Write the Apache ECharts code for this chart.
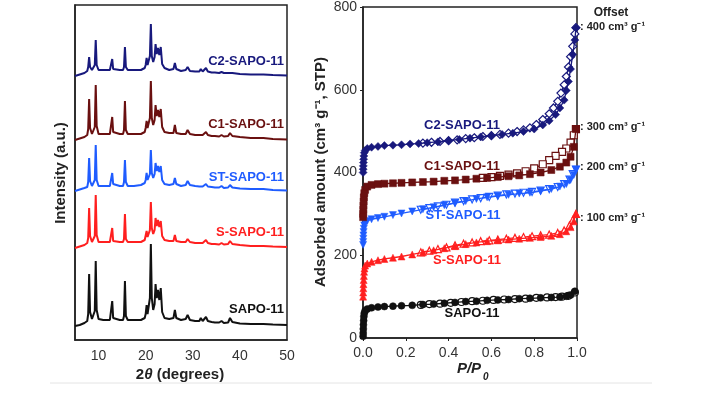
<!DOCTYPE html>
<html>
<head>
<meta charset="utf-8">
<script src="https://cdn.jsdelivr.net/npm/echarts@6/dist/echarts.min.js"></script>
<style>
html,body{margin:0;padding:0;background:#fff;}
#c{width:708px;height:402px;}
</style>
</head>
<body>
<div id="c"></div>
<script>
// ---------- XRD data (left panel) ----------
const twoTheta = [5.0,6.0,7.0,7.6,7.8,8.0,8.2,8.6,9.0,9.2,9.4,9.6,10.0,11.0,12.4,12.7,12.9,13.1,13.5,14.5,15.2,15.4,15.6,15.8,16.2,17.5,19.0,19.8,20.0,20.2,20.4,20.7,20.9,21.1,21.3,21.6,21.9,22.1,22.35,22.6,22.9,23.2,23.5,24.0,25.0,25.9,26.2,26.5,27.5,28.5,28.9,29.4,30.5,31.4,31.7,32.1,32.5,32.8,33.2,34.0,34.3,34.7,35.6,36.1,36.6,37.5,37.9,38.4,40.0,42.3,42.7,43.2,44.1,44.5,45.0,47.0,50.0];
const xrdSAPO = [0,1,3,5,12,52,14,7,7,15, 65,16,7,6,6,8,25,8,6,6, 6,10,45,10,6,6,6,8,12,21, 12,14,28,82,28,16,22,42,28,36, 26,38,14,8,7,8,16,8,6,7, 11,6,5,5,8,5,5,9,5,4, 5,3.5,3.5,5,3,3.5,8,4,2.5,2, 3.5,2,2,3.5,2,1.5,1];
const xrdS = [0,1.5,3,5,10,40,12,6,6,12, 53,13,6,6,6,7,20,7,6,6, 6,9,34,9,6,6,6,8,10,17, 11,12,18,46,20,14,18,30,22,28, 21,27,12,8,7,7,13,7,6,6, 9,6,5,5,7,5,5,8,5,4, 5,4,3.5,5,3.5,4,7,4,3,2, 3.5,2,2,3,2,1.5,1];
const xrdST = [0,1.5,3,4,9,33,10,5,5,11, 46,11,5,5,5,7,18,7,5,5, 5,9,31,9,5,5,6,8,11,18, 11,12,17,41,18,13,17,28,20,25, 19,25,11,7,6,7,13,7,5,6, 10,6,5,4.5,6,4.5,4.5,7,4.5,4, 5,3.5,3.5,5,3,3.5,6,3.5,2.5,2, 3,2,2,3,2,1,0.5];
const xrdC1 = [0,1.5,3,5,11,41,12,6,6,13, 55,14,6,6,6,8,23,8,6,6, 6,10,39,10,6,6,6,8,12,19, 12,13,22,59,22,15,20,35,24,30, 23,31,13,8,7,7,15,7,6,6, 10,6,5,5,7,5,5,8,5,4, 5,4,3.5,5,3.5,4,7,4,3,2, 3,2,2,3,2,1,0.5];
const xrdC2 = [0,1.5,3,5,9,19,9,6,6,11, 36,11,6,6,6,7,17,7,6,6, 6,9,29,9,6,6,6,8,11,18, 11,12,20,52,20,14,19,32,22,28, 21,29,12,8,6,7,13,7,5,6, 9,5,4.5,4.5,7,4.5,4.5,8,4.5,3.5, 4.5,3.5,3,4,3,3,5,3,2,1.5, 2.5,1.5,1.5,2.5,1.5,1,0.5];
const xrdOffsets = [14, 92, 149, 200, 264];   // SAPO, S, ST, C1, C2 vertical offsets (a.u.)
const xTicks2Theta = [10, 20, 30, 40, 50];

// ---------- N2 isotherms (right panel) ----------
const sapoAdsP = [0.0005,0.001,0.0015,0.002,0.003,0.004,0.006,0.01,0.02,0.04,0.07,0.1,0.14,0.18,0.23,0.28,0.33,0.38,0.43,0.48,0.53,0.58,0.63,0.68,0.73,0.78,0.83,0.88,0.92,0.95,0.97,0.99];
const sapoAdsV = [4,12,22,32,42,52,60,66,70,73,75,76,77,78,79,81,82,84,86,88,89,91,92,93,95,96,97,98,99,101,104,113];
const sapoDesP = [0.99,0.96,0.93,0.9,0.86,0.81,0.76,0.71,0.66,0.61,0.56,0.51,0.46,0.41,0.36,0.31,0.27];
const sapoDesV = [110,102,100,99,98,97,95,94,93,92,90,89,87,85,83,82,80];

const sAdsP = [0.0005,0.001,0.0015,0.002,0.003,0.004,0.005,0.007,0.01,0.02,0.04,0.07,0.1,0.14,0.18,0.23,0.28,0.33,0.38,0.43,0.48,0.53,0.58,0.63,0.68,0.73,0.78,0.83,0.88,0.92,0.95,0.97,0.985,0.995];
const sAdsV = [100,110,120,130,140,150,160,168,175,180,184,188,191,194,197,202,207,212,217,222,227,231,234,236,238,240,242,244,247,251,258,268,282,300];
const sDesP = [0.995,0.98,0.965,0.94,0.91,0.87,0.83,0.79,0.75,0.71,0.67,0.63,0.59,0.55,0.51,0.47,0.43,0.39,0.35,0.31,0.27];
const sDesV = [300,285,272,260,254,250,248,246,244,242,240,238,236,234,231,228,224,219,215,211,207];

const stAdsP = [0.0005,0.001,0.0015,0.002,0.003,0.004,0.006,0.01,0.02,0.04,0.07,0.1,0.14,0.18,0.23,0.28,0.33,0.38,0.43,0.48,0.53,0.58,0.63,0.68,0.73,0.78,0.83,0.88,0.92,0.95,0.97,0.985,0.995];
const stAdsV = [225,232,240,248,256,264,272,278,283,287,290,293,297,301,306,311,316,321,326,331,336,340,343,346,349,351,355,360,366,372,382,394,407];
const stDesP = [0.995,0.98,0.965,0.94,0.91,0.87,0.83,0.79,0.75,0.71,0.67,0.63,0.59,0.55,0.51,0.47,0.43,0.39,0.35,0.31,0.27];
const stDesV = [407,396,383,372,365,360,356,353,351,349,347,344,341,338,335,331,327,322,318,314,310];

const c1AdsP = [0.0005,0.001,0.0015,0.002,0.003,0.004,0.006,0.01,0.02,0.04,0.07,0.1,0.14,0.18,0.23,0.28,0.33,0.38,0.43,0.48,0.53,0.58,0.63,0.68,0.73,0.78,0.83,0.88,0.92,0.95,0.97,0.985,0.995];
const c1AdsV = [292,300,310,320,330,340,350,358,366,370,372,373,374,375,376,377,378,380,381,383,385,387,389,391,393,396,400,406,414,424,438,462,505];
const c1DesP = [0.995,0.985,0.97,0.95,0.93,0.9,0.87,0.84,0.8,0.76,0.72,0.68,0.64,0.6,0.56];
const c1DesV = [505,490,472,458,450,440,430,420,410,403,398,395,392,389,387];

const c2AdsP = [0.0005,0.001,0.0015,0.002,0.003,0.004,0.006,0.01,0.02,0.04,0.07,0.1,0.14,0.18,0.22,0.26,0.3,0.35,0.4,0.45,0.5,0.55,0.6,0.65,0.7,0.75,0.8,0.84,0.87,0.9,0.92,0.94,0.95,0.96,0.97,0.98,0.99,0.995];
const c2AdsV = [400,408,416,424,432,440,448,453,458,461,463,465,466,467,469,470,472,474,477,480,483,486,489,492,495,499,505,515,525,540,556,575,598,620,650,685,720,750];
const c2DesP = [0.995,0.99,0.98,0.97,0.96,0.95,0.94,0.925,0.91,0.89,0.87,0.84,0.81,0.78,0.75,0.72,0.68,0.64,0.6,0.56,0.52,0.48,0.44,0.4,0.36,0.32,0.28];
const c2DesV = [750,735,705,680,655,632,612,592,572,556,542,528,516,508,503,499,495,492,489,487,484,482,479,477,475,473,471];

const sampleNames = ['SAPO-11','S-SAPO-11','ST-SAPO-11','C1-SAPO-11','C2-SAPO-11'];
const offsetLabels = [': 400 cm³ g⁻¹', ': 300 cm³ g⁻¹', ': 200 cm³ g⁻¹', ': 100 cm³ g⁻¹'];

// ---------- styling ----------
const colors = ['#111111', '#ff1f1f', '#1f5cff', '#6a1010', '#18197d'];
const FONT = '"Liberation Sans", Arial, sans-serif';

const pairs = (xs, ys, off) => xs.map((x, i) => [x, ys[i] + (off || 0)]);

const xrdSets = [xrdSAPO, xrdS, xrdST, xrdC1, xrdC2];
const xrdSeries = xrdSets.map((arr, k) => ({
  type: 'line', name: sampleNames[k] + ' XRD', xAxisIndex: 0, yAxisIndex: 0,
  data: pairs(twoTheta, arr, xrdOffsets[k]),
  showSymbol: false, symbol: 'none', smooth: false,
  lineStyle: { color: colors[k], width: 2 }, z: 3
}));

const isoDefs = [
  { ap: sapoAdsP, av: sapoAdsV, dp: sapoDesP, dv: sapoDesV, sym: 'circle', rot: 0 },
  { ap: sAdsP, av: sAdsV, dp: sDesP, dv: sDesV, sym: 'triangle', rot: 0 },
  { ap: stAdsP, av: stAdsV, dp: stDesP, dv: stDesV, sym: 'triangle', rot: 180 },
  { ap: c1AdsP, av: c1AdsV, dp: c1DesP, dv: c1DesV, sym: 'rect', rot: 0 },
  { ap: c2AdsP, av: c2AdsV, dp: c2DesP, dv: c2DesV, sym: 'diamond', rot: 0 }
];
const isoSeries = [];
isoDefs.forEach((d, k) => {
  isoSeries.push({
    type: 'line', name: sampleNames[k] + ' des', xAxisIndex: 1, yAxisIndex: 1,
    data: pairs(d.dp, d.dv), symbol: d.sym, symbolRotate: d.rot, symbolSize: d.sym === 'diamond' ? 8 : 7,
    showSymbol: true, lineStyle: { color: colors[k], width: 1.3 },
    itemStyle: { color: '#ffffff', borderColor: colors[k], borderWidth: 1.2 }, z: 4
  });
  isoSeries.push({
    type: 'line', name: sampleNames[k] + ' ads', xAxisIndex: 1, yAxisIndex: 1,
    data: pairs(d.ap, d.av), symbol: d.sym, symbolRotate: d.rot, symbolSize: d.sym === 'diamond' ? 8 : 7,
    showSymbol: true, lineStyle: { color: colors[k], width: 1.3 },
    itemStyle: { color: colors[k], borderColor: colors[k], borderWidth: 0.5 }, z: 5
  });
});

const lbl = (text, x, y, color, align) => ({
  type: 'text', x: x, y: y, z: 20,
  style: { text: text, fill: color, font: 'bold 13px ' + FONT, align: align || 'right', verticalAlign: 'middle' }
});
const offLbl = (text, y) => ({
  type: 'text', x: 580, y: y, z: 20,
  style: { text: text, fill: '#222', font: 'bold 11px ' + FONT, align: 'left', verticalAlign: 'middle' }
});

const graphics = [
  lbl(sampleNames[4], 284, 61, colors[4]),
  lbl(sampleNames[3], 284, 124, colors[3]),
  lbl(sampleNames[2], 284, 177, colors[2]),
  lbl(sampleNames[1], 284, 232, colors[1]),
  lbl(sampleNames[0], 284, 309, colors[0]),
  lbl(sampleNames[4], 462, 125, colors[4], 'center'),
  lbl(sampleNames[3], 462, 166, colors[3], 'center'),
  lbl(sampleNames[2], 463, 215, colors[2], 'center'),
  lbl(sampleNames[1], 467, 260, colors[1], 'center'),
  lbl(sampleNames[0], 472, 313, colors[0], 'center'),
  { type: 'text', x: 611, y: 13, z: 20, style: { text: 'Offset', fill: '#222', font: 'bold 12px ' + FONT, align: 'center', verticalAlign: 'middle' } },
  offLbl(offsetLabels[0], 27),
  offLbl(offsetLabels[1], 127),
  offLbl(offsetLabels[2], 167),
  offLbl(offsetLabels[3], 218),
  { type: 'text', x: 61, y: 173, rotation: Math.PI / 2, z: 20,
    style: { text: 'Intensity (a.u.)', fill: '#222', font: 'bold 15px ' + FONT, align: 'center', verticalAlign: 'middle' } },
  { type: 'text', x: 180, y: 375, z: 20,
    style: { text: '{a|2}{b|θ}{a| (degrees)}', align: 'center', verticalAlign: 'middle',
      rich: { a: { fill: '#222', font: 'bold 15px ' + FONT }, b: { fill: '#222', font: 'italic bold 15px ' + FONT } } } },
  { type: 'text', x: 321, y: 172, rotation: Math.PI / 2, z: 20,
    style: { text: 'Adsorbed amount (cm³ g⁻¹, STP)', fill: '#222', font: 'bold 15px ' + FONT, align: 'center', verticalAlign: 'middle' } },
  { type: 'text', x: 469, y: 369, z: 20,
    style: { text: 'P/P', fill: '#222', font: 'italic bold 15px ' + FONT, align: 'center', verticalAlign: 'middle' } },
  { type: 'text', x: 483, y: 377, z: 20,
    style: { text: '0', fill: '#222', font: 'italic bold 10px ' + FONT, align: 'left', verticalAlign: 'middle' } },
  { type: 'line', z: 1, shape: { x1: 50, y1: 383, x2: 652, y2: 383 }, style: { stroke: '#e4e4e4', lineWidth: 1 } }
];

const chart = echarts.init(document.getElementById('c'), null, { renderer: 'canvas' });
chart.setOption({
  animation: false,
  backgroundColor: '#ffffff',
  textStyle: { fontFamily: FONT },
  grid: [
    { left: 75, right: 421, top: 5, bottom: 62, show: true, borderColor: '#222', borderWidth: 1.5, backgroundColor: 'transparent' },
    { left: 363, right: 131, top: 5, bottom: 64, show: true, borderColor: '#222', borderWidth: 1.5, backgroundColor: 'transparent' }
  ],
  xAxis: [
    { type: 'value', gridIndex: 0, min: 5, max: 50,
      axisLine: { show: true, lineStyle: { color: '#222', width: 1.5 } },
      axisTick: { show: false },
      splitLine: { show: false },
      axisLabel: { customValues: xTicks2Theta, color: '#333', fontSize: 14, margin: 9, fontFamily: FONT } },
    { type: 'value', gridIndex: 1, min: 0, max: 1, interval: 0.2,
      axisLine: { show: true, lineStyle: { color: '#222', width: 1.5 } },
      axisTick: { show: true, inside: false, length: 3, lineStyle: { color: '#222' } },
      splitLine: { show: false },
      axisLabel: { color: '#333', fontSize: 14, margin: 8, fontFamily: FONT, formatter: v => v.toFixed(1) } }
  ],
  yAxis: [
    { type: 'value', gridIndex: 0, min: 0, max: 335,
      axisLine: { show: true, lineStyle: { color: '#222', width: 1.5 } },
      axisTick: { show: false }, axisLabel: { show: false }, splitLine: { show: false } },
    { type: 'value', gridIndex: 1, min: 0, max: 800, interval: 200,
      axisLine: { show: true, lineStyle: { color: '#222', width: 1.5 } },
      axisTick: { show: true, length: 3, lineStyle: { color: '#222' } },
      splitLine: { show: false },
      axisLabel: { color: '#333', fontSize: 14, margin: 6, fontFamily: FONT } }
  ],
  series: xrdSeries.concat(isoSeries),
  graphic: graphics
});
</script>
</body>
</html>
